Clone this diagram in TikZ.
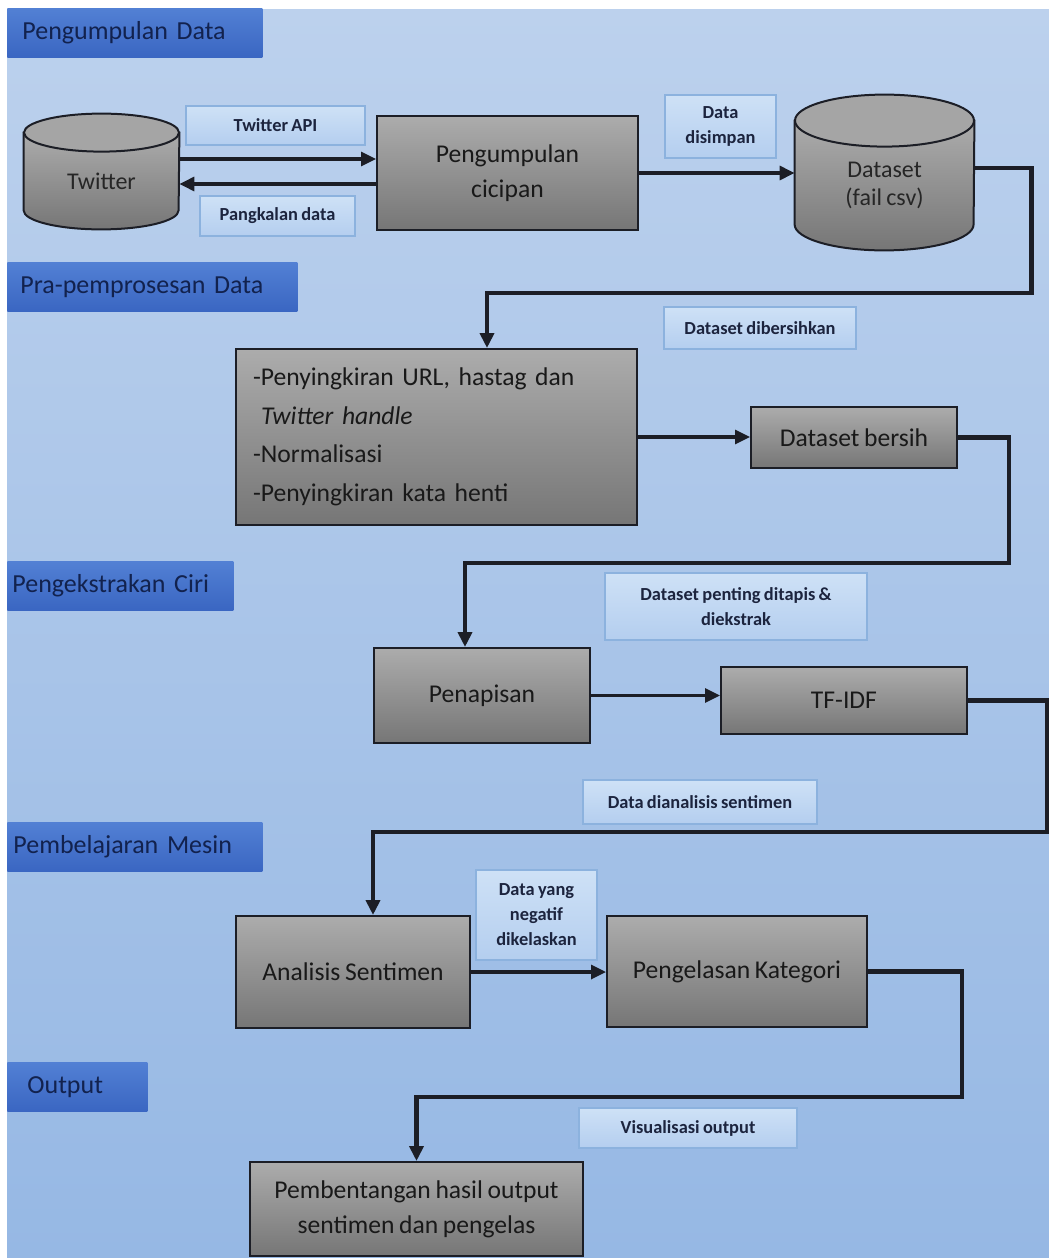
\documentclass[tikz,border=0pt]{standalone}
\usepackage{fontspec}
\setmainfont{Carlito}[WordSpace=0.8]
\usetikzlibrary{arrows.meta}
\definecolor{bgtop}{RGB}{188,209,237}
\definecolor{bgbot}{RGB}{150,184,228}
\definecolor{hdrtop}{RGB}{82,128,212}
\definecolor{hdrbot}{RGB}{58,102,194}
\definecolor{hdrtext}{RGB}{18,34,78}
\definecolor{lbltop}{RGB}{206,225,246}
\definecolor{lblbot}{RGB}{180,206,239}
\definecolor{lbledge}{RGB}{140,178,222}
\definecolor{lbltext}{RGB}{28,36,62}
\definecolor{proctop}{RGB}{172,172,172}
\definecolor{procbot}{RGB}{118,118,118}
\definecolor{capfill}{RGB}{165,165,165}
\definecolor{edge}{RGB}{28,30,38}

\begin{document}
\begin{tikzpicture}[x=0.5pt,y=-0.5pt,
  hdr/.style={anchor=west,minimum height=24.5pt,inner ysep=0pt,top color=hdrtop,bottom color=hdrbot,text=hdrtext,font=\fontsize{13}{15}\selectfont,align=left},
  lbl/.style={draw=lbledge,line width=0.6pt,top color=lbltop,bottom color=lblbot,text=lbltext,font=\fontsize{9.2}{12.5}\selectfont\bfseries,align=center,inner sep=0pt},
  proc/.style={draw=edge,line width=1pt,top color=proctop,bottom color=procbot,text=black!90,font=\fontsize{12.8}{17.5}\selectfont,align=center,inner sep=0pt},
  db/.style={inner sep=0pt,text=black!85,font=\fontsize{12}{14}\selectfont,align=center},
  flow/.style={draw=edge,line width=1.6pt,-{Triangle[length=7.5pt,width=7pt]}},
  elbow/.style={draw=edge,line width=2.2pt,-{Triangle[length=7.5pt,width=7pt]}}]
\useasboundingbox (0,0) rectangle (1049,1258);
%background
\fill[white] (0,0) rectangle (1049,1258);
\shade[top color=bgtop,bottom color=bgbot] (7,9) rectangle (1049,1258);
%section bars
\node[hdr,inner xsep=7.5pt,text width=112.5pt] (h1) at (7,33) {Pengumpulan Data};
\node[hdr,inner xsep=6.5pt,text width=132pt] (h2) at (7,287) {Pra-pemprosesan Data};
\node[hdr,inner xsep=2.5pt,text width=108pt] (h3) at (7,586) {Pengekstrakan Ciri};
\node[hdr,inner xsep=3pt,text width=121.5pt] (h4) at (7,847) {Pembelajaran Mesin};
\node[hdr,inner xsep=10pt,text width=50pt] (h5) at (7,1087) {Output};
%labels on the connectors
\node[lbl,minimum width=89.5pt,minimum height=19.5pt] (lapi) at (275.5,125.5) {Twitter API};
\node[lbl,minimum width=77.5pt,minimum height=20pt] (lpangkalan) at (277.5,216) {Pangkalan data};
\node[lbl,minimum width=55.5pt,minimum height=31.5pt] (lsimpan) at (720.5,126.5) {Data\\disimpan};
\node[lbl,minimum width=96pt,minimum height=21pt] (lbersih) at (760,328) {Dataset dibersihkan};
\node[lbl,minimum width=131pt,minimum height=33.5pt] (lpenting) at (736,606.5) {Dataset penting ditapis \&\\diekstrak};
\node[lbl,minimum width=117pt,minimum height=22pt] (lanalisis) at (700,802) {Data dianalisis sentimen};
\node[lbl,minimum width=60.5pt,minimum height=45pt] (lnegatif) at (536.5,915) {Data yang\\negatif\\dikelaskan};
\node[lbl,minimum width=109pt,minimum height=20pt] (lvisual) at (688,1128) {Visualisasi output};
%databases
\node[db,minimum width=77.5pt,minimum height=48pt] (twitter) at (101.5,181) {Twitter};
\node[db,minimum width=89.5pt,minimum height=64.5pt] (dataset) at (884.5,185.5) {Dataset\\(fail csv)};
\foreach \n/\rx/\ry in {twitter/38.75pt/9.5pt,dataset/44.75pt/13pt}{
  \shadedraw[top color=proctop,bottom color=procbot,draw=edge,line width=1pt]
    (\n.north west) -- ([yshift=\ry]\n.south west)
    arc[start angle=180,end angle=360,x radius=\rx,y radius=\ry]
    -- (\n.north east) -- cycle;
  \filldraw[fill=capfill,draw=edge,line width=1pt] (\n.north) ellipse[x radius=\rx,y radius=\ry];
}
\node[db] at (twitter) {Twitter};
\node[db] at (dataset) {Dataset\\(fail csv)};
%process boxes
\node[proc,minimum width=130.5pt,minimum height=57pt] (cicipan) at (507.5,173) {Pengumpulan\\cicipan};
\node[proc,minimum width=200.5pt,minimum height=88pt,align=left,inner xsep=8.5pt,text width=183.5pt,font=\fontsize{12.8}{19.25}\selectfont] (prep) at (436.5,437)
  {-Penyingkiran URL, hastag dan\\\hspace*{4pt}\textit{Twitter handle}\\-Normalisasi\\-Penyingkiran kata henti};
\node[proc,minimum width=103pt,minimum height=30.5pt] (bersih) at (854,437.5) {Dataset bersih};
\node[proc,minimum width=108pt,minimum height=47.5pt] (penapisan) at (482,695.5) {Penapisan};
\node[proc,minimum width=123pt,minimum height=33.5pt] (tfidf) at (844,700.5) {TF-IDF};
\node[proc,minimum width=117pt,minimum height=56pt] (analisis) at (353,972) {Analisis Sentimen};
\node[proc,minimum width=130pt,minimum height=55.5pt] (kategori) at (737,971.5) {Pengelasan Kategori};
\node[proc,minimum width=166.5pt,minimum height=47pt] (bentang) at (416.5,1209) {Pembentangan hasil output\\sentimen dan pengelas};
%turning points
\coordinate (c1) at (487,293);
\coordinate (c2) at (465,563);
\coordinate (c3) at (373,832);
\coordinate (c4) at (416.5,1097);
%connectors
\draw[flow] ([yshift=11pt]twitter.east) -- ([yshift=11pt]twitter.east -| cicipan.west);
\draw[flow] ([yshift=-5.5pt]cicipan.west) -- ([yshift=-5.5pt]cicipan.west -| twitter.east);
\draw[flow] (cicipan.east) -- (cicipan.east -| dataset.west);
\draw[elbow] ([yshift=8.75pt]dataset.east) -- ++(57,0) |- (c1) -- (c1 |- prep.north);
\draw[flow] (prep.east) -- (prep.east -| bersih.west);
\draw[elbow] (bersih.east) -- ++(51,0) |- (c2) -- (c2 |- penapisan.north);
\draw[flow] (penapisan.east) -- (penapisan.east -| tfidf.west);
\draw[elbow] (tfidf.east) -- ++(79,0) |- (c3) -- (c3 |- analisis.north);
\draw[flow] (analisis.east) -- (analisis.east -| kategori.west);
\draw[elbow] (kategori.east) -- ++(94,0) |- (c4) -- (bentang.north);
\end{tikzpicture}
\end{document}
